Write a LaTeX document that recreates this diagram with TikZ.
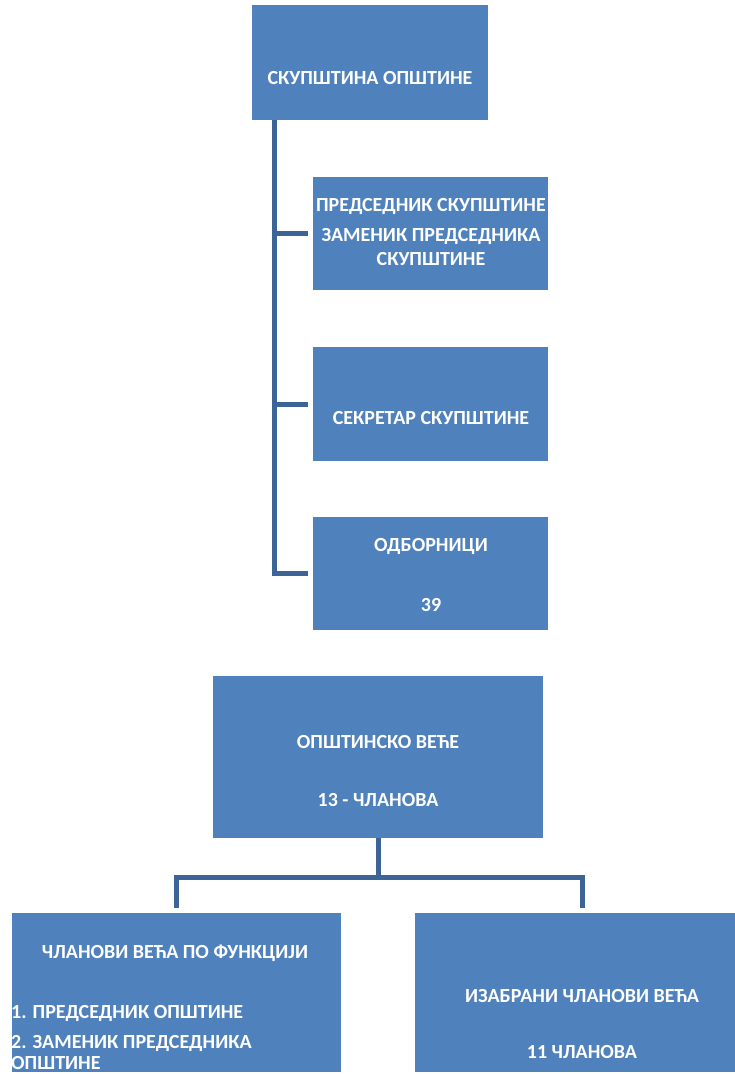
\documentclass[tikz,border=0pt]{standalone}
\usepackage{fontspec}
\setmainfont{Carlito}
\usepackage{xcolor}
\definecolor{boxblue}{HTML}{4F81BD}
\definecolor{lineblue}{HTML}{3C6496}

\begin{document}
\begin{tikzpicture}[x=1pt,y=-1pt,
    box/.style={fill=boxblue, draw=none, inner sep=0pt},
    txt/.style={text=white, inner sep=0pt, font=\bfseries\fontsize{20}{24}\selectfont},
    conn/.style={draw=lineblue, line width=5pt, shorten >=5pt}]
\clip (0,0) rectangle (735,1074);
% cadres
\node[box, minimum width=236pt, minimum height=115pt] (skup) at (370,62.5) {};
\node[box, minimum width=235pt, minimum height=113pt] (pred) at (430.5,233.5) {};
\node[box, minimum width=235pt, minimum height=114pt] (sekr) at (430.5,404) {};
\node[box, minimum width=235pt, minimum height=113pt] (odb) at (430.5,573.5) {};
\node[box, minimum width=330pt, minimum height=162pt] (vece) at (378,757) {};
\node[box, minimum width=329pt, minimum height=159pt] (clan) at (176.5,992.5) {};
\node[box, minimum width=334pt, minimum height=159pt] (izab) at (582,992.5) {};
% textes
\node[txt] (t1) at (370,78) {СКУПШТИНА ОПШТИНЕ};
\node[txt] (t2) at (431,206) {ПРЕДСЕДНИК СКУПШТИНЕ};
\node[txt] (t3) at (431,236) {ЗАМЕНИК ПРЕДСЕДНИКА};
\node[txt] (t4) at (431,259) {СКУПШТИНЕ};
\node[txt] (t5) at (431,418) {СЕКРЕТАР СКУПШТИНЕ};
\node[txt] (t6) at (431,546) {ОДБОРНИЦИ};
\node[txt] (t7) at (431,605) {39};
\node[txt] (t8) at (378,742) {ОПШТИНСКО ВЕЋЕ};
\node[txt] (t9) at (378,800) {13 - ЧЛАНОВА};
\node[txt] (t10) at (175,953) {ЧЛАНОВИ ВЕЋА ПО ФУНКЦИЈИ};
\node[txt, anchor=west] (t11) at (11,1013) {1. ПРЕДСЕДНИК ОПШТИНЕ};
\node[txt, anchor=west] (t12) at (11,1043) {2. ЗАМЕНИК ПРЕДСЕДНИКА};
\node[txt, anchor=west] (t13) at (11,1063) {ОПШТИНЕ};
\node[txt] (t14) at (582,996) {ИЗАБРАНИ ЧЛАНОВИ ВЕЋА};
\node[txt] (t15) at (582,1052) {11 ЧЛАНОВА};
% veze
\coordinate (stablo) at ([xshift=23pt]skup.south west);
\coordinate (grana) at ([yshift=-39pt]vece.south);
\draw[conn] (stablo) |- (odb.west);
\draw[conn] (stablo |- pred.west) -- (pred.west);
\draw[conn] (stablo |- sekr.west) -- (sekr.west);
\draw[conn] (vece.south) -- (grana) -| (clan.north);
\draw[conn] (grana) -| (izab.north);
\end{tikzpicture}
\end{document}
